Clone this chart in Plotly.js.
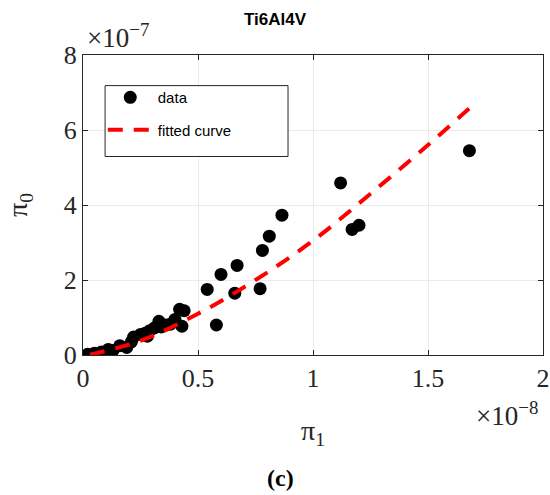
<!DOCTYPE html>
<html>
<head>
<meta charset="utf-8">
<script src="https://cdn.plot.ly/plotly-3.0.1.min.js"></script>
<style>html,body{margin:0;padding:0;background:#fff;}#chart{width:550px;height:495px;}</style>
</head>
<body>
<div id="chart"></div>
<script>
// pi_1 in units of 1e-8, pi_0 in units of 1e-7
const dataPi1 = [0.02,0.05,0.08,0.11,0.13,0.16,0.19,0.21,0.22,0.25,0.27,0.28,0.29,0.31,0.33,0.34,0.36,0.38,0.40,0.42,0.43,0.44,0.54,0.58,0.60,0.66,0.67,0.77,0.78,0.81,0.865,1.12,1.17,1.20,1.68];
const dataPi0 = [0.02,0.05,0.08,0.15,0.12,0.25,0.20,0.35,0.48,0.55,0.58,0.50,0.65,0.72,0.90,0.75,0.80,0.82,0.95,1.22,0.77,1.18,1.75,0.80,2.15,1.65,2.39,1.77,2.79,3.17,3.73,4.59,3.35,3.46,5.45];
const fitPi1 = [0.03,0.25,0.5,0.75,1.0,1.25,1.5,1.68];
const fitPi0 = [0.01,0.38,1.1,2.0,3.05,4.3,5.6,6.58];
const xTicks = [0,0.5,1,1.5,2];
const xTickText = ['0','0.5','1','1.5','2'];
const yTicks = [0,2,4,6,8];
const yTickText = ['0','2','4','6','8'];

const serif = 'Liberation Serif, serif';
const sans = 'Liberation Sans, Arial, sans-serif';

const traces = [
  {x: dataPi1, y: dataPi0, mode: 'markers', type: 'scatter', name: 'data', legendgroup: 'a',
   marker: {color: '#000', size: 13}},
  {x: fitPi1, y: fitPi0, mode: 'lines', type: 'scatter', name: 'fitted curve', legendgroup: 'b',
   line: {color: '#ff0000', width: 4, dash: '15px,11px', shape: 'spline'}}
];

const axisCommon = {
  showgrid: true, gridcolor: '#ebebeb', gridwidth: 1,
  showline: true, linecolor: '#262626', linewidth: 1, mirror: 'ticks',
  ticks: 'inside', ticklen: 5, tickcolor: '#262626',
  zeroline: false, tickfont: {family: serif, size: 26, color: '#262626'}
};

const layout = {
  width: 550, height: 495,
  margin: {l: 83, r: 7, t: 55, b: 139.5},
  paper_bgcolor: '#fff', plot_bgcolor: '#fff',
  title: {text: '<b>Ti6Al4V</b>', font: {family: sans, size: 17, color: '#000'},
          x: 0.5, xref: 'container', y: 0.962, yref: 'container', yanchor: 'middle'},
  xaxis: Object.assign({}, axisCommon, {
    range: [0, 2], tickvals: xTicks, ticktext: xTickText,
    title: {text: 'π<sub>1</sub>', font: {family: serif, size: 28, color: '#262626'}, standoff: 28}
  }),
  yaxis: Object.assign({}, axisCommon, {
    range: [0, 8], tickvals: yTicks, ticktext: yTickText,
    title: {text: 'π<sub>0</sub>', font: {family: serif, size: 28, color: '#262626'}, standoff: 27}
  }),
  showlegend: true,
  legend: {x: 0.043, y: 0.913, xanchor: 'left', yanchor: 'top',
           bgcolor: 'rgba(0,0,0,0)', borderwidth: 0,
           font: {family: sans, size: 15, color: '#000'},
           itemwidth: 45, tracegroupgap: 10},
  shapes: [
    {type: 'rect', xref: 'paper', yref: 'paper', x0: 0.048, x1: 0.4457, y0: 0.6617, y1: 0.898,
     line: {color: '#262626', width: 1}, fillcolor: 'rgba(255,255,255,1)', layer: 'above'}
  ],
  annotations: [
    {text: '×10<sup>−7</sup>', xref: 'paper', yref: 'paper', x: 0.004, y: 1.065,
     xanchor: 'left', yanchor: 'middle', showarrow: false,
     font: {family: serif, size: 27, color: '#262626'}},
    {text: '×10<sup>−8</sup>', xref: 'paper', yref: 'paper', x: 0.9935, y: -0.198,
     xanchor: 'right', yanchor: 'middle', showarrow: false,
     font: {family: serif, size: 27, color: '#262626'}},
    {text: '<b>(c)</b>', xref: 'paper', yref: 'paper', x: 0.43, y: -0.41,
     xanchor: 'center', yanchor: 'middle', showarrow: false,
     font: {family: serif, size: 24, color: '#000'}}
  ]
};

Plotly.newPlot('chart', traces, layout, {displayModeBar: false, staticPlot: true});
</script>
</body>
</html>
